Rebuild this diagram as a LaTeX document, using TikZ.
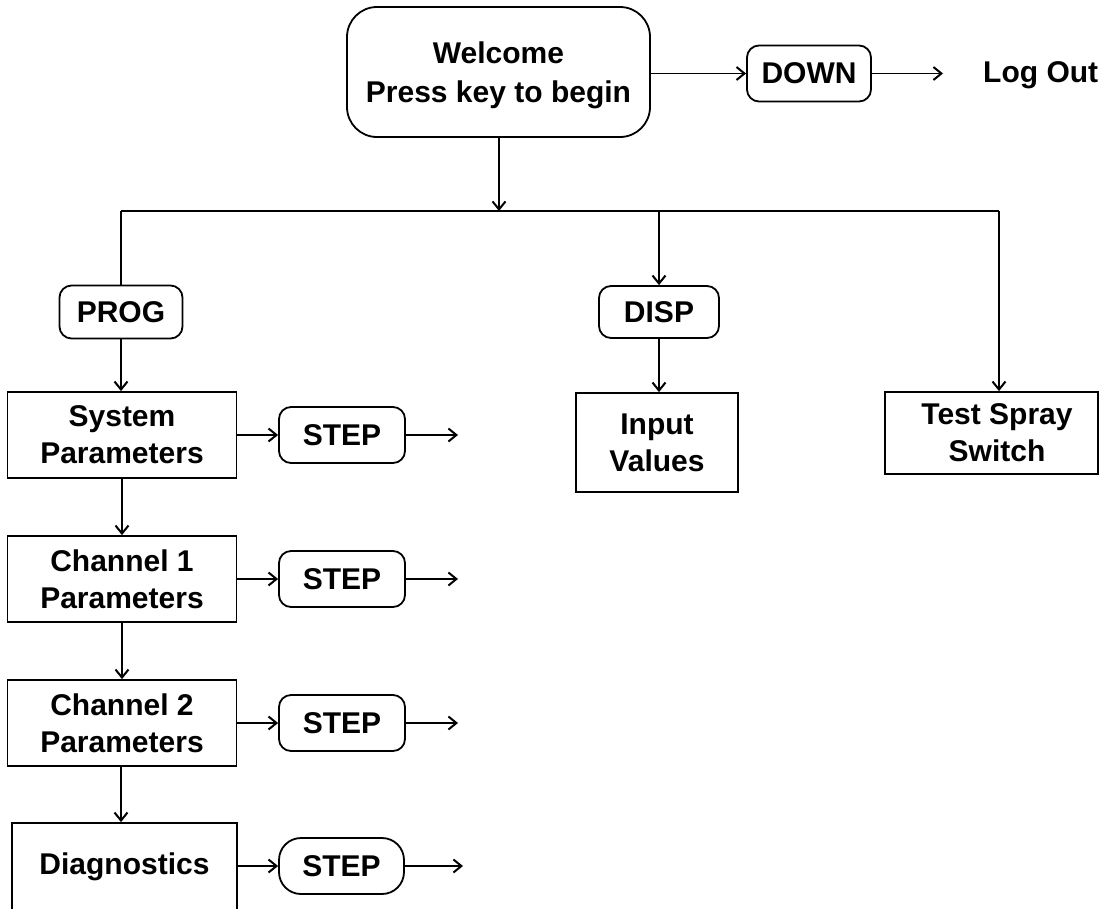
\documentclass[tikz,border=0pt]{standalone}
\usepackage{fontspec}
\setmainfont{Liberation Sans}
\usetikzlibrary{arrows.meta}
\tikzset{
  txt/.style={font=\fontsize{30}{37}\selectfont\bfseries, align=center, inner sep=0pt},
  rbox/.style={txt, draw, line width=1.8pt, rounded corners=12pt},
  sbox/.style={txt, draw, line width=1.8pt, minimum width=229pt, minimum height=86pt},
  conn/.style={line width=1.5pt},
  arr/.style={conn, -{Straight Barb[length=8pt,width=13pt,line width=2pt]}},
}
\begin{document}
\begin{tikzpicture}[x=1pt,y=-1pt]
\useasboundingbox (0,0) rectangle (1100,908);
\clip (0,0) rectangle (1100,908);
\node[rbox, rounded corners=30pt, minimum width=303pt, minimum height=130pt] (welcome) at (498.5,72) {};
\node[txt, font=\fontsize{30}{39}\selectfont\bfseries] (welcometxt) at (498.5,75) {Welcome\\Press key to begin};
\node[rbox, minimum width=124pt, minimum height=56pt] (down) at (809,73.5) {DOWN};
\node[txt, anchor=west] (logout) at (983,75) {Log Out};
\coordinate (downend) at (943,73.5);

\coordinate (busc) at (499,211);
\coordinate (busl) at (121,211);
\coordinate (busm) at (659,211);
\coordinate (busr) at (999,211);

\node[rbox, minimum width=123pt, minimum height=53pt] (prog) at (121,312) {PROG};
\node[rbox, minimum width=120pt, minimum height=52pt] (disp) at (659,312) {DISP};

\node[sbox] (sys) at (122,435) {System\\Parameters};
\node[sbox] (ch1) at (122,579) {Channel 1\\Parameters};
\node[sbox] (ch2) at (122,723) {Channel 2\\Parameters};
\node[sbox, minimum width=225pt, minimum height=88pt] (diag) at (124.5,867) {Diagnostics};

\node[rbox, minimum width=126pt, minimum height=56pt] (s1) at (342,435) {STEP};
\node[rbox, minimum width=126pt, minimum height=56pt] (s2) at (342,579) {STEP};
\node[rbox, minimum width=126pt, minimum height=56pt] (s3) at (342,723) {STEP};
\node[rbox, rounded corners=22pt, minimum width=125pt, minimum height=56pt] (s4) at (341.5,866) {STEP};
\coordinate (e1) at (458,435);
\coordinate (e2) at (458,579);
\coordinate (e3) at (458,723);
\coordinate (e4) at (463,866);

\node[sbox, minimum width=162pt, minimum height=99pt] (input) at (657,442.5) {Input\\Values};
\node[sbox, minimum width=213pt, minimum height=82pt] (test) at (991.5,433) {};
\node[txt] (testtxt) at (997,433) {Test Spray\\Switch};

% connectors
\draw[arr] (welcome.east |- down.west) -- (down.west);
\draw[arr] (down.east) -- (downend);
\draw[arr] (welcome.south -| busc) -- (busc);
\draw[conn] (busl) -- (busr);
\draw[conn] (busl) -- (prog.north -| busl);
\draw[arr] (busm) -- (disp.north);
\draw[arr] (busr) -- (test.north -| busr);
\draw[arr] (prog.south) -- (prog.south |- sys.north);
\draw[arr] (disp.south) -- (disp.south |- input.north);
\draw[arr] (sys.south) -- (ch1.north);
\draw[arr] (ch1.south) -- (ch2.north);
\draw[arr] (ch2.south -| 121,0) -- (diag.north -| 121,0);
\draw[arr] (sys.east) -- (s1.west);
\draw[arr] (ch1.east) -- (s2.west);
\draw[arr] (ch2.east) -- (s3.west);
\draw[arr] (diag.east |- s4.west) -- (s4.west);
\draw[arr] (s1.east) -- (e1);
\draw[arr] (s2.east) -- (e2);
\draw[arr] (s3.east) -- (e3);
\draw[arr] (s4.east) -- (e4);
\end{tikzpicture}
\end{document}
